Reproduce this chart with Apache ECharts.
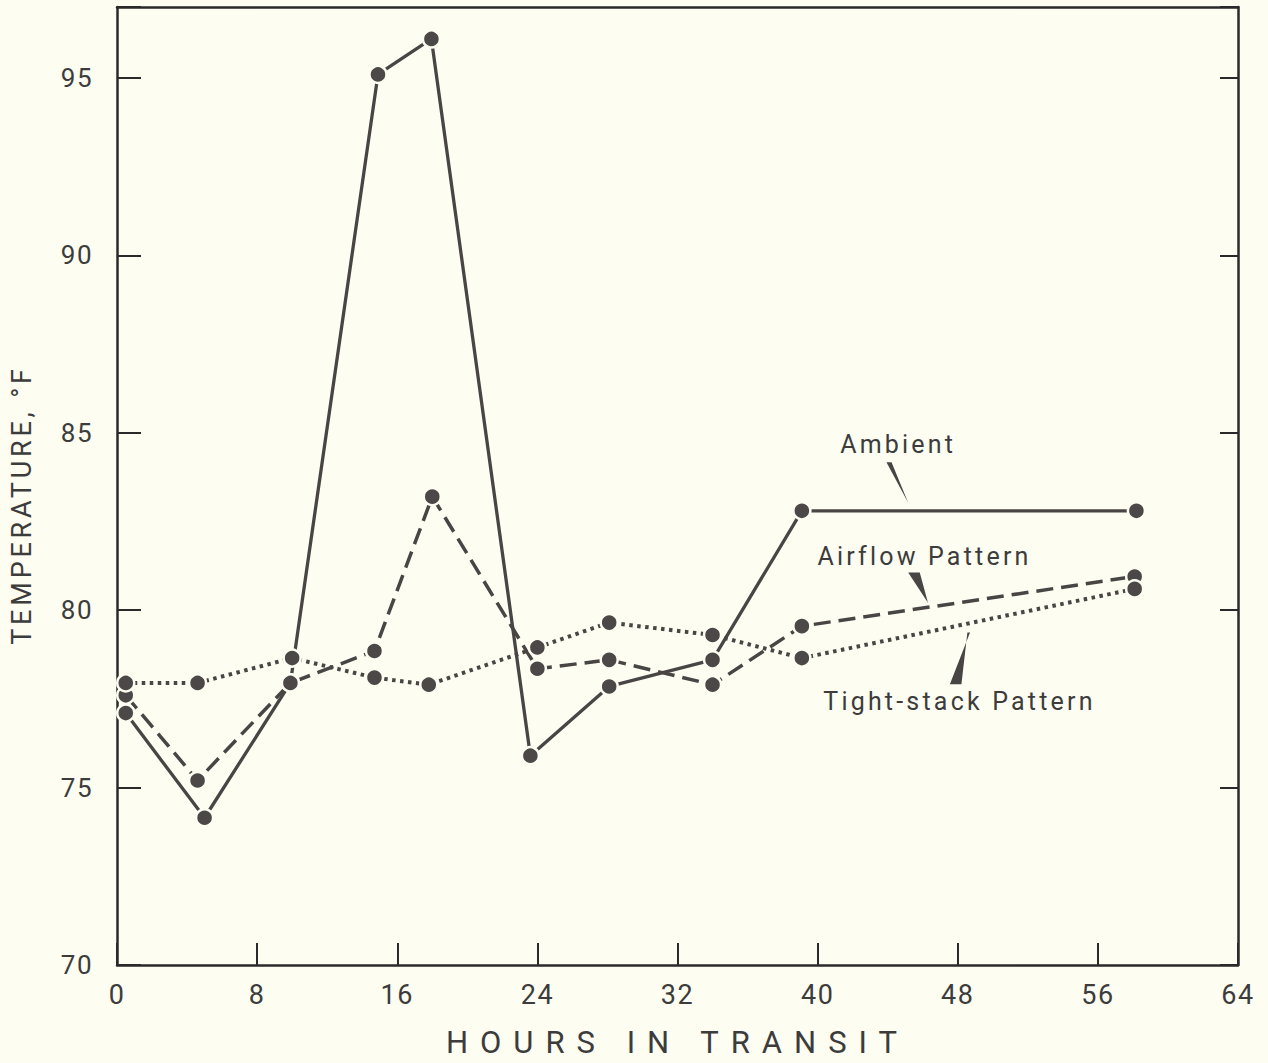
<!DOCTYPE html>
<html><head><meta charset="utf-8">
<script src="https://cdn.jsdelivr.net/npm/echarts@6/dist/echarts.min.js"></script>
<style>html,body{margin:0;padding:0;background:#fdfdf1}#c{width:1268px;height:1063px}</style>
</head><body><div id="c"></div><script>
// ---- data ----
const xTicks = [0, 8, 16, 24, 32, 40, 48, 56, 64];
const yTicks = [70, 75, 80, 85, 90, 95];
const ambient = [[0.5,77.1],[5.0,74.15],[9.9,77.95],[14.9,95.1],[17.95,96.1],[23.6,75.9],[28.1,77.85],[34.0,78.6],[39.1,82.8],[58.2,82.8]];
const airflow = [[0.5,77.6],[4.6,75.2],[9.9,77.95],[14.7,78.85],[18.0,83.2],[24.0,78.35],[28.1,78.6],[34.0,77.9],[39.1,79.55],[58.1,80.95]];
const tightStack = [[0.5,77.95],[4.6,77.95],[10.0,78.65],[14.7,78.1],[17.8,77.9],[24.0,78.95],[28.1,79.65],[34.0,79.3],[39.1,78.65],[58.1,80.6]];
const labelNames = ['Ambient', 'Airflow Pattern', 'Tight-stack Pattern'];
const labelPos = [[44.6,84.67],[46.1,81.51],[48.1,77.43]];
const pointers = [[43.93,84.17,44.22,84.17,45.17,83.03],[45.17,81.06,45.83,81.06,46.3,80.21],[48.55,79.37,48.7,79.37,47.55,77.91,48.21,77.91]];

const INK = '#4a4545', AX = '#2a2a2a', TXT = '#3c3c3c', BG = '#fdfdf1';
const FONT = 'Roboto, "DejaVu Sans", sans-serif';

const chart = echarts.init(document.getElementById('c'), null, {renderer: 'svg'});
const axLine = {show: true, onZero: false, lineStyle: {color: AX, width: 2.5}};
const lineSeries = (name, data, type, width) => ({
  name, type: 'line', data, xAxisIndex: 0, yAxisIndex: 0,
  symbol: 'circle', symbolSize: 17,
  lineStyle: {color: INK, width, type, cap: 'butt'},
  itemStyle: {color: '#4d4848', borderColor: BG, borderWidth: 2.5},
  z: 3, silent: true, animation: false
});
chart.setOption({
  backgroundColor: BG,
  animation: false,
  grid: {left: 117, right: 30, top: 7, bottom: 97},
  xAxis: [{
    type: 'value', min: xTicks[0], max: xTicks[xTicks.length-1], interval: 8, position: 'bottom',
    axisLine: axLine, axisTick: {show: true, inside: true, length: 22, lineStyle: {color: AX, width: 2}},
    axisLabel: {margin: 16, fontSize: 27, fontFamily: FONT, color: TXT},
    splitLine: {show: false},
    name: 'HOURS IN TRANSIT', nameLocation: 'middle', nameGap: 62,
    nameTextStyle: {fontSize: 31, fontFamily: FONT, color: TXT}
  }, {
    type: 'value', min: 0, max: 64, position: 'top',
    axisLine: axLine, axisTick: {show: false}, axisLabel: {show: false}, splitLine: {show: false}
  }],
  yAxis: [{
    type: 'value', min: yTicks[0], max: 97, interval: 5, position: 'left',
    axisLine: axLine, axisTick: {show: true, inside: true, length: 24, lineStyle: {color: AX, width: 2}},
    axisLabel: {margin: 24, fontSize: 26, fontFamily: FONT, color: TXT,
      formatter: v => yTicks.indexOf(v) >= 0 ? String(v) : ''},
    splitLine: {show: false},
    name: 'TEMPERATURE, °F', nameLocation: 'middle', nameGap: 82,
    nameTextStyle: {fontSize: 27, fontFamily: FONT, color: TXT, padding: [0, 38, 0, 0]}
  }, {
    type: 'value', min: 70, max: 97, interval: 5, position: 'right',
    axisLine: axLine, axisTick: {show: true, inside: true, length: 18, lineStyle: {color: AX, width: 2}},
    axisLabel: {show: false}, splitLine: {show: false}
  }],
  series: [
    lineSeries('Ambient', ambient, 'solid', 3.3),
    lineSeries('Airflow Pattern', airflow, [17, 8], 3.5),
    lineSeries('Tight-stack Pattern', tightStack, [3.5, 4.5], 4),
    {
      type: 'custom', silent: true, animation: false, z: 4, clip: false,
      data: pointers.map((p, i) => [p[0], p[1], i]),
      renderItem: (params, api) => {
        const p = pointers[params.dataIndex];
        const pts = [];
        for (let k = 0; k < p.length; k += 2) pts.push(api.coord([p[k], p[k+1]]));
        return {type: 'polygon', shape: {points: pts}, style: {fill: INK}};
      }
    },
    {
      type: 'custom', silent: true, animation: false, z: 4, clip: false,
      data: labelPos,
      renderItem: (params, api) => {
        const c = api.coord([api.value(0), api.value(1)]);
        return {type: 'text', style: {text: labelNames[params.dataIndex], x: c[0], y: c[1],
          align: 'center', verticalAlign: 'middle', fill: TXT, font: '25px ' + FONT}};
      }
    }
  ]
});
function spacing() {
  document.querySelectorAll('#c text').forEach(t => {
    const s = t.textContent;
    let ls = '1.5px';
    if (s === 'HOURS IN TRANSIT') ls = '12px';
    else if (s.indexOf('TEMPERATURE') === 0) ls = '3.8px';
    else if (/[A-Za-z]/.test(s)) ls = '3.2px';
    t.style.letterSpacing = ls;
  });
}
chart.on('finished', spacing);
setTimeout(spacing, 50);
</script></body></html>
